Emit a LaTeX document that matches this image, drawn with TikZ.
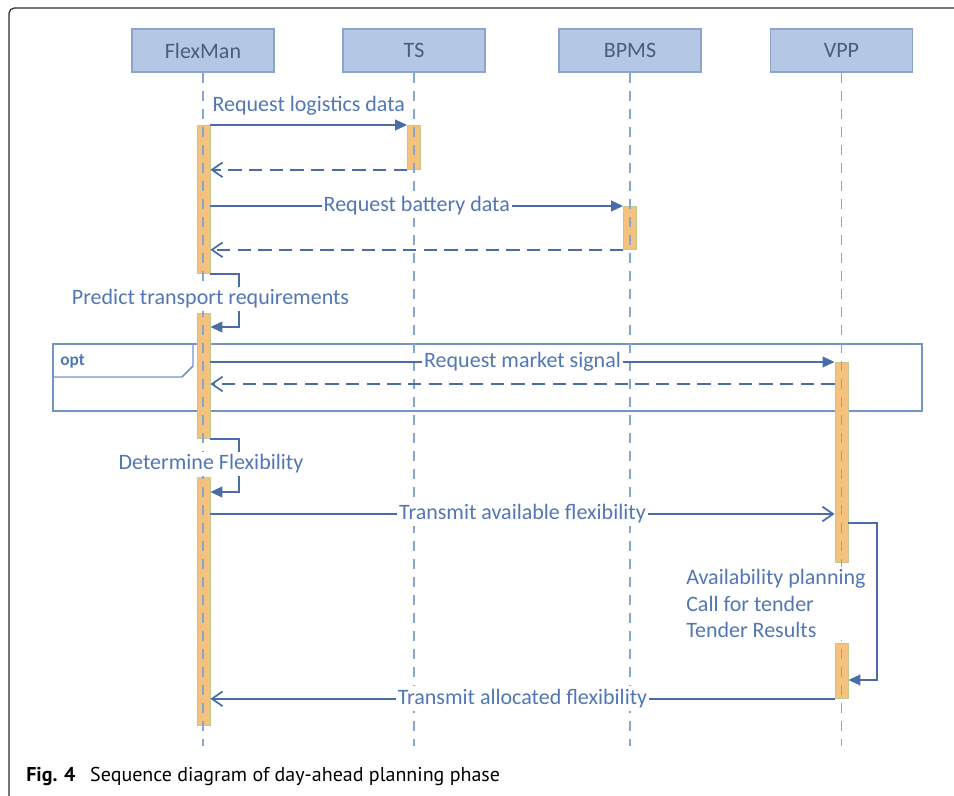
\documentclass[tikz,border=0pt]{standalone}
\usepackage{fontspec}
\setmainfont{Carlito}
\newfontfamily\capfont{PT Sans}
\usetikzlibrary{arrows.meta}

\definecolor{headfill}{HTML}{B4C7E4}
\definecolor{headdraw}{HTML}{8BA5CA}
\definecolor{headtext}{HTML}{4A5D7E}
\definecolor{msgcol}{HTML}{4A6DA8}
\definecolor{msgtext}{HTML}{5177B5}
\definecolor{lifecol}{HTML}{88A5D2}
\definecolor{barfill}{HTML}{F5C27E}
\definecolor{bardraw}{HTML}{C3C88E}
\definecolor{optcol}{HTML}{7493C6}
\definecolor{framecol}{HTML}{2B2B2B}

\begin{document}
\begin{tikzpicture}[x=0.75pt,y=-0.75pt,
  txt/.style={font=\fontsize{16.5}{19.9}\selectfont},
  head/.style={txt,draw=headdraw,fill=headfill,line width=1.1pt,
    minimum width=106.5pt,minimum height=32.25pt,inner sep=0pt,text=headtext},
  life/.style={draw=lifecol,line width=1.1pt,dash pattern=on 7.5pt off 6pt},
  actbar/.style={fill=barfill,draw=bardraw,line width=0.6pt,
    minimum width=9.75pt,inner sep=0pt,anchor=north},
  msgline/.style={draw=msgcol,line width=1.4pt},
  call/.style={msgline,-{Triangle[length=9pt,width=8pt]}},
  reply/.style={msgline,dash pattern=on 10pt off 5.5pt,
    -{Straight Barb[length=8pt,width=11pt,line width=1.3pt]}},
  async/.style={msgline,-{Straight Barb[length=8pt,width=11pt,line width=1.3pt]}},
  lbl/.style={txt,fill=white,text=msgtext,inner xsep=1.5pt,inner ysep=2.25pt},
  lbltop/.style={txt,text=msgtext,anchor=base,yshift=10.5pt,inner sep=0pt},
  optbox/.style={draw=optcol,line width=1.1pt},
]
\useasboundingbox (0,0) rectangle (954,796);

% page frame
\draw[framecol,line width=0.9pt,rounded corners=4pt] (9,796) -- (9,8) -- (954,8);

% lifeline heads
\node[head] (fm) at (203,50.5) {FlexMan};
\node[head] (ts) at (414,50.5) {TS};
\node[head] (bp) at (630,50.5) {BPMS};
\node[head] (vp) at (841.5,50.5) {VPP};

\coordinate (fmEnd) at (203,746);
\coordinate (tsEnd) at (414,746);
\coordinate (bpEnd) at (630,746);
\coordinate (vpEnd) at (841.5,746);

% optional fragment
\draw[optbox] (53,344) rectangle (922,411);
\draw[optbox] (53,377) -- (182,377) -- (193,366) -- (193,344);
\node[anchor=base west,text=msgtext,inner sep=0pt,
  font=\fontsize{13}{15}\selectfont\bfseries] (optTag) at (60,365) {opt};

% activation bars
\node[actbar,minimum height=111pt]   (fmA1) at (203.5,125) {};
\node[actbar,minimum height=93.75pt] (fmA2) at (203.5,313) {};
\node[actbar,minimum height=186pt]   (fmA3) at (203.5,477) {};
\node[actbar,minimum height=33pt]    (tsA)  at (414,125) {};
\node[actbar,minimum height=32.25pt] (bpA)  at (630,206) {};
\node[actbar,minimum height=150pt]   (vpA1) at (841.5,362) {};
\node[actbar,minimum height=41.25pt] (vpA2) at (841.5,643) {};

% lifelines
\draw[life] (fm.south) -- (fmEnd);
\draw[life] (ts.south) -- (tsEnd);
\draw[life] (bp.south) -- (bpEnd);
\draw[life] (vp.south) -- (vpEnd);

% messages
\draw[call] (fmA1.north east) -- node[lbltop] {Request logistics data} (tsA.north west);
\draw[reply] (tsA.south west) -- (fmA1.east |- tsA.south);

\draw[call] (fmA1.east |- bpA.north) -- node[lbl] {Request battery data} (bpA.north west);
\draw[reply] (bpA.south west) -- (fmA1.east |- bpA.south);

\draw[call] (fmA1.south east) -- ++(29,0) |- ([yshift=-10.5pt]fmA2.north east);
\node[lbl] (predict) at (210.5,299) {Predict transport requirements};

\draw[call] (fmA2.east |- vpA1.north) -- node[lbl] {Request market signal} (vpA1.north west);
\coordinate (mret) at ([yshift=-16.5pt]vpA1.north west);
\draw[reply] (mret) -- (fmA2.east |- mret);

\draw[call] (fmA2.south east) -- ++(29,0) |- ([yshift=-11.25pt]fmA3.north east);
\node[lbl] (determine) at (211,464) {Determine Flexibility};

\coordinate (avail) at ([yshift=-27.75pt]fmA3.north east);
\draw[async] (avail) -- node[lbl] {Transmit available flexibility} (vpA1.west |- avail);

\draw[call] ([yshift=-120.75pt]vpA1.north east) -- ++(29,0)
  |- ([yshift=-27.75pt]vpA2.north east);
\node[lbl,align=left,anchor=north west,inner xsep=0pt,inner ysep=1.5pt] (plan) at (686,567)
  {Availability planning\\Call for tender\\Tender Results};

\draw[async] (vpA2.south west) -- node[lbl] {Transmit allocated flexibility} (fmA3.east |- vpA2.south);

% caption
\node[anchor=base west,inner sep=0pt,font=\capfont\fontsize{15}{18}\selectfont] (cap) at (26,781)
  {\textbf{Fig. 4}\hspace{11pt}Sequence diagram of day-ahead planning phase};
\end{tikzpicture}
\end{document}
